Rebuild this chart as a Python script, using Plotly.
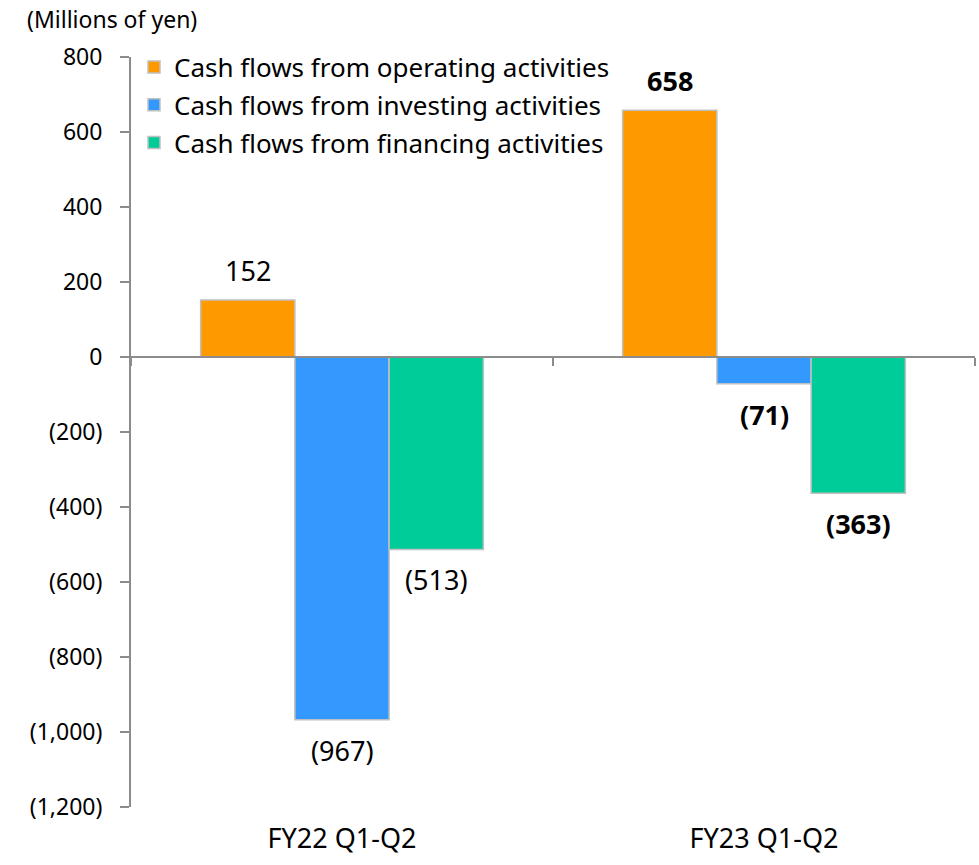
import plotly.graph_objects as go

# Cash flow summary by period (millions of yen)
periods = ["FY22 Q1-Q2", "FY23 Q1-Q2"]
series_names = [
    "Cash flows from operating activities",
    "Cash flows from investing activities",
    "Cash flows from financing activities",
]
operating = [152, 658]
investing = [-967, -71]
financing = [-513, -363]
series_values = [operating, investing, financing]
series_colors = ["#FF9900", "#3399FF", "#00CC99"]

y_ticks = [800, 600, 400, 200, 0, -200, -400, -600, -800, -1000, -1200]
y_min, y_max = -1200, 800


def fmt(v):
    return f"({abs(v):,})" if v < 0 else f"{v:,}"


y_tick_text = [fmt(v) for v in y_ticks]

FONT = "Noto Sans, Open Sans, sans-serif"
W, H = 979, 865
M = dict(l=131, r=4, t=57, b=58)
BARGAP = 0.33
AXIS_GRAY = "#8C8C8C"

fig = go.Figure()
for name, vals, col in zip(series_names, series_values, series_colors):
    fig.add_trace(go.Bar(
        x=periods, y=vals, name=name, legendgroup=name,
        marker=dict(color=col, line=dict(color="#C0C0C0", width=1.5)),
    ))

# helper trace so the zero-level category axis carries the same categories
fig.add_trace(go.Scatter(
    x=periods, y=[None] * len(periods), xaxis="x2", mode="markers",
    showlegend=False, hoverinfo="skip",
))

# value labels: bold for the latest period
plot_w = W - M["l"] - M["r"]
plot_h = H - M["t"] - M["b"]
bar_px = plot_w / len(periods) * (1 - BARGAP) / len(series_names)
annotations = []
for i, vals in enumerate(series_values):
    for j, v in enumerate(vals):
        txt = fmt(v)
        if j == 1:
            txt = f"<b>{txt}</b>"
        annotations.append(dict(
            x=periods[j], y=v, xref="x", yref="y", text=txt, showarrow=False,
            xshift=(i - 1) * bar_px,
            yanchor="bottom" if v >= 0 else "top",
            yshift=9 if v >= 0 else -10,
            font=dict(family=FONT, size=27, color="#000000"),
        ))

annotations.append(dict(
    xref="paper", yref="paper", xanchor="left", yanchor="middle",
    x=(25 - M["l"]) / plot_w, y=1 + (M["t"] - 19) / plot_h,
    text="(Millions of yen)", showarrow=False,
    font=dict(family=FONT, size=23, color="#000000"),
))

zero_pos = (0 - y_min) / (y_max - y_min)

fig.update_layout(
    width=W, height=H, margin=M,
    paper_bgcolor="white", plot_bgcolor="white",
    barmode="group", bargap=BARGAP, bargroupgap=0,
    font=dict(family=FONT, size=23, color="#000000"),
    showlegend=True,
    legend=dict(
        x=(134 - M["l"]) / plot_w, y=1.018, xanchor="left", yanchor="top",
        bgcolor="rgba(0,0,0,0)", font=dict(family=FONT, size=26),
        traceorder="grouped", tracegroupgap=1, itemwidth=30,
    ),
    annotations=annotations,
    xaxis=dict(
        type="category", ticks="", showline=False, showgrid=False, zeroline=False,
        tickfont=dict(family=FONT, size=27), range=[-0.5, 1.5],
        ticklabelstandoff=13,
    ),
    xaxis2=dict(
        type="category", overlaying="x", anchor="free", position=zero_pos,
        side="bottom", range=[-0.5, 1.5],
        tickson="boundaries", ticks="outside", ticklen=8,
        tickcolor=AXIS_GRAY, tickwidth=2,
        showline=True, linecolor=AXIS_GRAY, linewidth=2,
        showgrid=False, zeroline=False, showticklabels=False,
    ),
    yaxis=dict(
        range=[y_min, y_max], tickvals=y_ticks, ticktext=y_tick_text,
        ticks="outside", ticklen=9, tickcolor=AXIS_GRAY, tickwidth=2,
        showline=True, linecolor=AXIS_GRAY, linewidth=2,
        showgrid=False, zeroline=False,
        tickfont=dict(family=FONT, size=23), ticklabelstandoff=13,
    ),
)

fig.write_html("out.html")
